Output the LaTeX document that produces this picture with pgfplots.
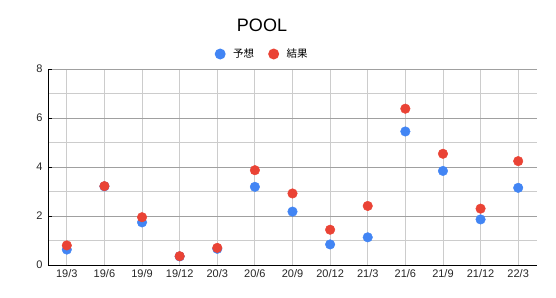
\documentclass[border=0pt]{standalone}
\usepackage{pgfplots}
\pgfplotsset{compat=1.18}
\usepackage{fontspec}
\setmainfont{Liberation Sans}
\newfontfamily\cjk{Noto Sans CJK JP}
\definecolor{cblue}{HTML}{4285F4}
\definecolor{cred}{HTML}{EA4335}
\definecolor{majgrid}{HTML}{A0A0A0}
\definecolor{mingrid}{HTML}{CCCCCC}
\begin{document}
\begin{tikzpicture}
\path[use as bounding box] (-48bp,-33bp) rectangle (508bp,265bp);
\begin{axis}[
  at={(0,0)}, anchor=south west,
  scale only axis, width=489bp, height=196bp,
  xmin=-0.5, xmax=12.5, ymin=0, ymax=8,
  xtick={0,...,12},
  xticklabels={19/3,19/6,19/9,19/12,20/3,20/6,20/9,20/12,21/3,21/6,21/9,21/12,22/3},
  ytick={0,2,4,6,8},
  minor ytick={1,3,5,7},
  axis x line*=bottom, axis y line*=left,
  axis line style={black, line width=0.9bp, -},
  xmajorgrids, ymajorgrids, yminorgrids,
  x grid style={mingrid, line width=0.8bp},
  major grid style={majgrid, line width=0.8bp},
  minor grid style={mingrid, line width=0.8bp},
  major x grid style={mingrid, line width=0.8bp},
  x tick style={draw=none},
  y tick style={black, line width=0.9bp},
  minor y tick style={draw=none},
  tick align=inside,
  major tick length=4bp,
  /pgf/number format/assume math mode=true,
  tick label style={font=\fontsize{11bp}{13bp}\selectfont, text=black!85},
  xticklabel style={yshift=-1bp},
  yticklabel style={xshift=-2bp},
  legend style={at={(0.438,1)}, anchor=center, yshift=15bp, draw=none, fill=none,
    font=\fontsize{10.5bp}{12bp}\selectfont\cjk, legend columns=2,
    /tikz/every even column/.append style={column sep=12bp}},
  legend cell align=left,
  legend image code/.code={\fill (0bp,0bp) circle (5.5bp); \path (11bp,0bp);},
]
\addplot[only marks, mark=*, mark size=4.8bp, draw=none, fill=cblue, mark options={draw=none, fill=cblue}, color=cblue] coordinates {
(0,0.63) (1,3.21) (2,1.74) (3,0.35) (4,0.66) (5,3.19) (6,2.18) (7,0.84) (8,1.13) (9,5.45) (10,3.84) (11,1.86) (12,3.15)
};
\addlegendentry{予想}
\addplot[only marks, mark=*, mark size=4.8bp, draw=none, fill=cred, mark options={draw=none, fill=cred}, color=cred] coordinates {
(0,0.80) (1,3.22) (2,1.95) (3,0.36) (4,0.70) (5,3.87) (6,2.92) (7,1.44) (8,2.41) (9,6.38) (10,4.54) (11,2.30) (12,4.24)
};
\addlegendentry{結果}
\end{axis}
\node[font=\fontsize{18bp}{20bp}\selectfont] at (214bp,240bp) {POOL};
\end{tikzpicture}
\end{document}
